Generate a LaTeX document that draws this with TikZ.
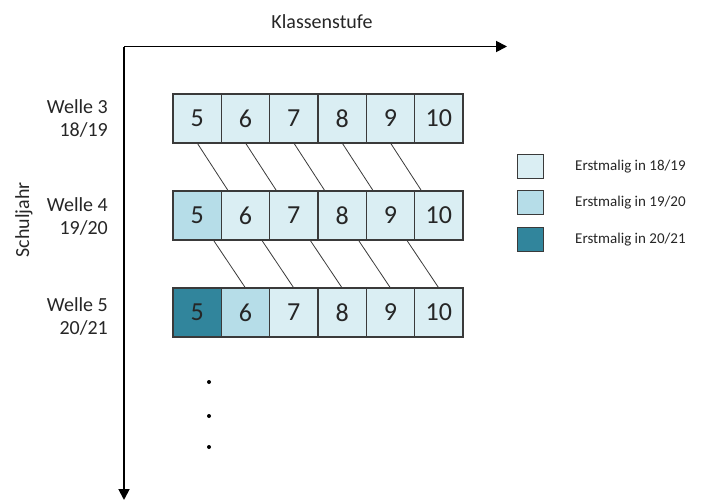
\documentclass[tikz,border=0pt]{standalone}
\usepackage{fontspec}
\setmainfont{Carlito}
\usetikzlibrary{arrows.meta,calc}
\definecolor{cLight}{HTML}{DAEEF3}
\definecolor{cMid}{HTML}{B6DDE8}
\definecolor{cDark}{HTML}{31859C}
\definecolor{cLine}{HTML}{3A3A3A}
\definecolor{cText}{HTML}{262626}
\begin{document}
\begin{tikzpicture}[x=1pt,y=-1pt,
  cell/.style={draw=cLine,line width=1.2pt,minimum width=48.33pt,minimum height=49pt,
    inner sep=0pt,outer sep=0pt,anchor=north west,font=\fontsize{26}{28}\selectfont,text=cText},
  lbl/.style={align=right,anchor=east,font=\fontsize{20}{23}\selectfont,text=cText,inner sep=0pt},
  axis/.style={line width=1.8pt,-{Triangle[length=11pt,width=11pt]}},
  link/.style={draw=cLine,line width=0.8pt},
  legbox/.style={draw=cLine,line width=1pt,minimum width=26pt,minimum height=24pt,inner sep=0pt},
  legtxt/.style={anchor=west,font=\fontsize{15}{17}\selectfont,text=cText,inner sep=0pt},
  dot/.style={circle,fill=black,inner sep=0pt,minimum size=4pt}]
\useasboundingbox (0,0) rectangle (702,500);
% axes
\coordinate (o) at (124,46.5);
\coordinate (xend) at (507,46.5);
\coordinate (yend) at (124,500);
\draw[axis] (o) -- (xend);
\draw[axis] ([yshift=-0.9pt]o) -- (yend);
\node[font=\fontsize{20}{22}\selectfont,text=cText] (kl) at (322,22) {Klassenstufe};
\node[rotate=90,font=\fontsize{20}{22}\selectfont,text=cText] (sj) at (24,220) {Schuljahr};
% rows
\foreach \r/\y in {1/94,2/191,3/288}{
  \foreach \c/\n in {1/5,2/6,3/7,4/8,5/9,6/10}{
    \node[cell,fill=cLight] (r\r c\c) at ({173+(\c-1)*48.33},\y) {\n};
  }
}
\node[cell,fill=cMid] at (r2c1.north west) {5};
\node[cell,fill=cDark] at (r3c1.north west) {5};
\node[cell,fill=cMid] at (r3c2.north west) {6};
% row labels
\node[lbl] (w3) at (108,118) {Welle 3\\18/19};
\node[lbl] (w4) at (108,216) {Welle 4\\19/20};
\node[lbl] (w5) at (108,316) {Welle 5\\20/21};
% links
\foreach \a/\b in {1/2,2/3,3/4,4/5,5/6}{
  \draw[link] (r1c\a.south) -- ($(r2c\b.north west)+(7,0)$);
  \draw[link] ($(r2c\a.south east)+(-8,0)$) -- (r3c\b.north);
}
% dots
\node[dot] (d1) at (209,382) {};
\node[dot] (d2) at (209,416) {};
\node[dot] (d3) at (209,447) {};
% legend
\node[legbox,fill=cLight] (l1) at (530,167) {};
\node[legbox,fill=cMid] (l2) at (530,203) {};
\node[legbox,fill=cDark] (l3) at (530,239.5) {};
\node[legtxt] (t1) at (575,167) {Erstmalig in 18/19};
\node[legtxt] (t2) at (575,203) {Erstmalig in 19/20};
\node[legtxt] (t3) at (575,239.5) {Erstmalig in 20/21};
\end{tikzpicture}
\end{document}
